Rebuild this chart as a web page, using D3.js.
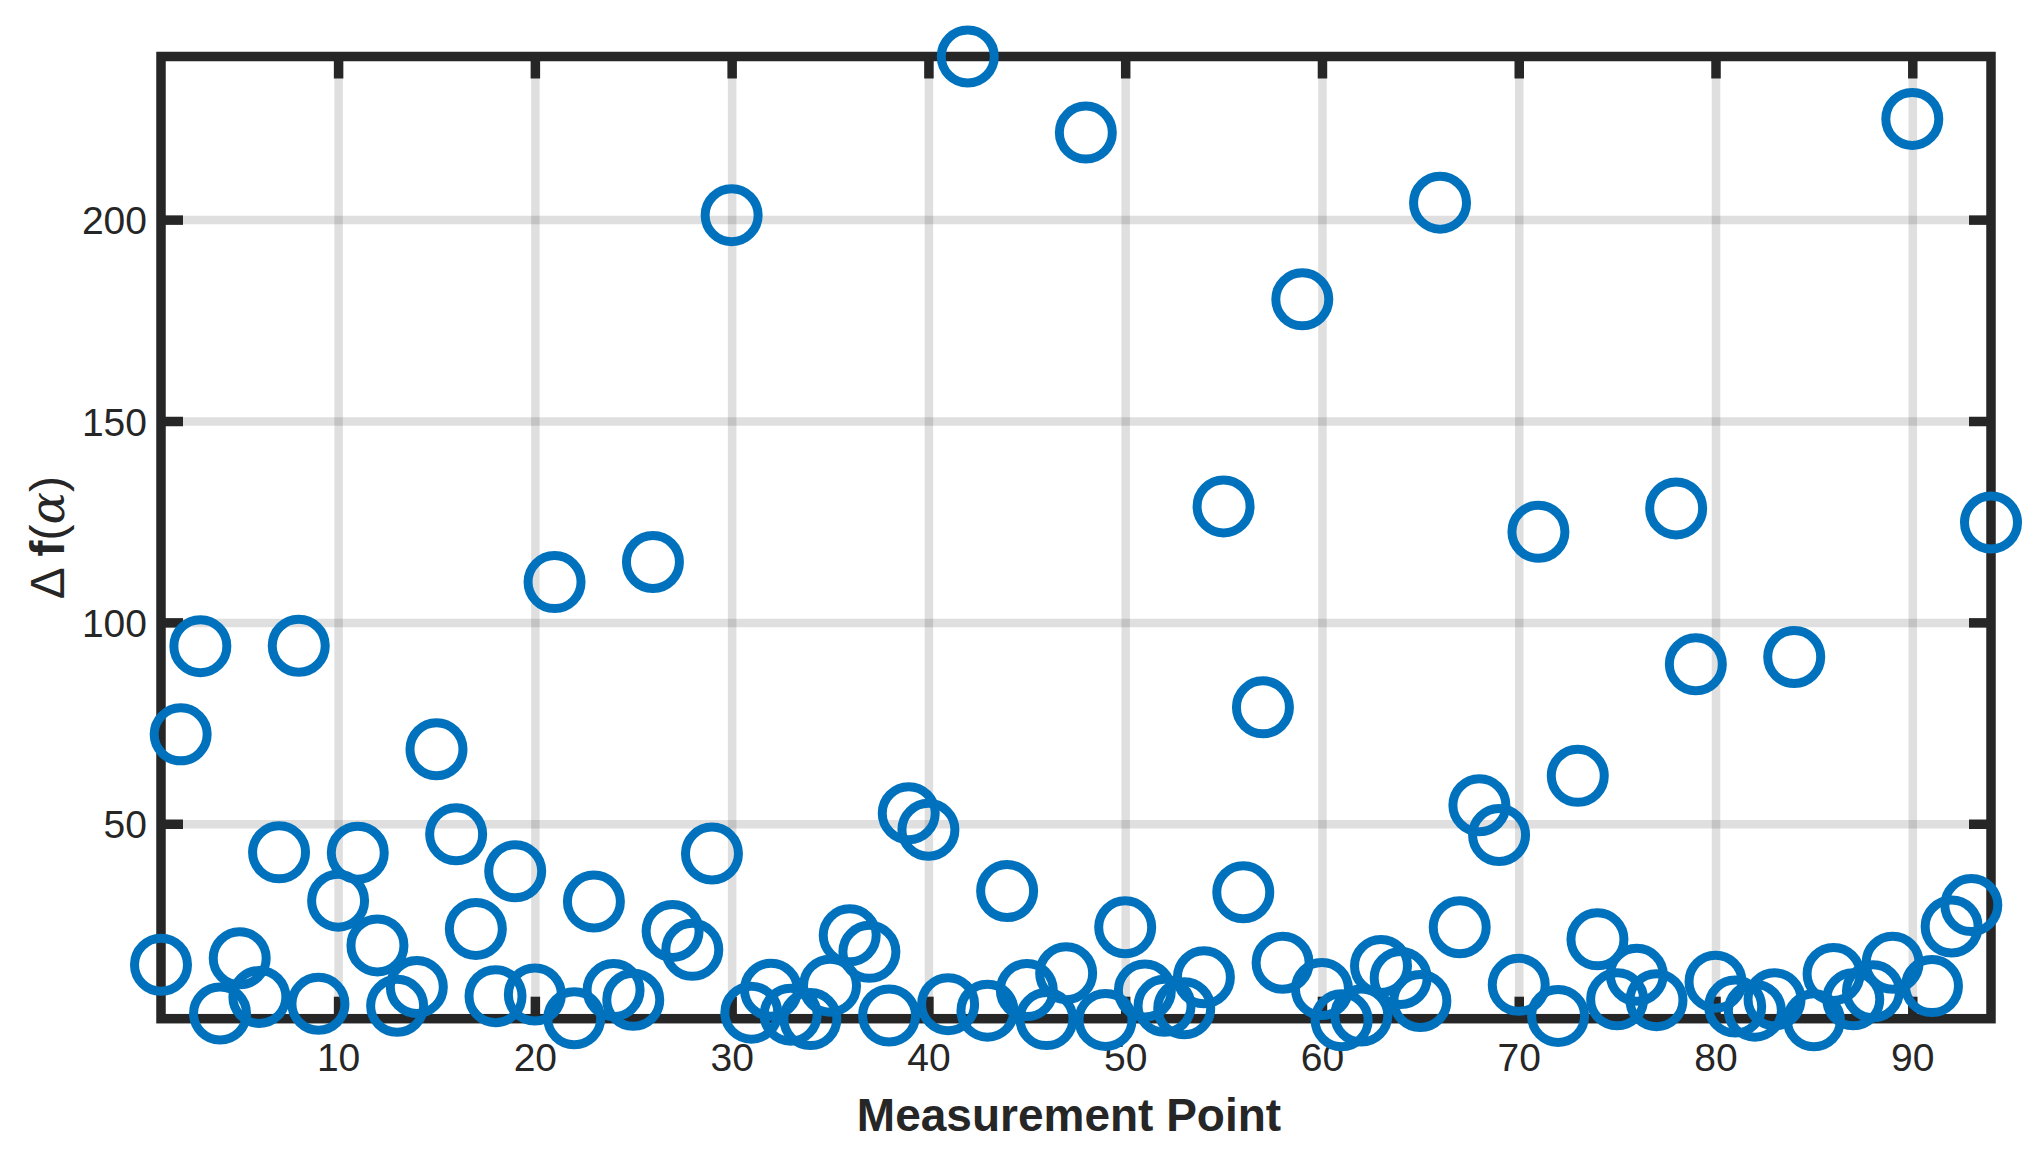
<!DOCTYPE html>
<html lang="en">
<head>
<meta charset="UTF-8">
<script src="https://d3js.org/d3.v7.min.js"></script>
<style>
  body { margin: 0; background: #fff; }
  text { font-family: "Liberation Sans", Arial, Helvetica, sans-serif; fill: #262626; }
</style>
<title>Delta f(alpha)</title>
</head>
<body>
<div class="canvas"></div>
<script>
// measurement points 1..94 and their delta f(alpha) values
const points = d3.range(1, 95)
const deltaF = [
  15.0, 72.2, 94.1, 2.9, 16.6, 7.0, 42.9, 94.2, 5.3, 30.9,
  42.8, 19.8, 4.8, 9.5, 68.5, 47.4, 23.9, 7.2, 38.2, 7.6,
  110.0, 1.7, 30.7, 8.7, 6.3, 115.0, 23.4, 18.7, 42.6, 201.1,
  3.1, 8.8, 2.6, 1.5, 9.8, 22.3, 18.2, 2.4, 52.6, 48.5,
  5.2, 240.5, 3.6, 33.3, 8.7, 1.5, 12.9, 221.6, 1.3, 24.3,
  8.6, 4.8, 4.2, 11.9, 128.8, 33.0, 78.9, 15.5, 180.2, 9.0,
  1.2, 2.4, 14.7, 11.7, 6.0, 204.2, 24.3, 54.6, 47.2, 10.0,
  122.5, 2.3, 61.9, 21.3, 6.4, 12.5, 6.2, 128.3, 89.6, 10.8,
  4.6, 3.6, 6.4, 91.4, 1.2, 12.7, 6.4, 8.4, 15.5, 225.0,
  9.7, 24.5, 29.8, 124.8
]
const xTicks = [10, 20, 30, 40, 50, 60, 70, 80, 90]
const yTicks = [50, 100, 150, 200]
const xDomain = [1, 94]
const yDomain = [1.6, 240.5]

const width = 2040
const height = 1160
const [ml, mr, mt, mb] = [161, 49, 56.5, 141.3]
const graphWidth = width - ml - mr
const graphHeight = height - mt - mb

const ink = '#262626'
const blue = '#0072BD'
const tickLen = 22
const frameWidth = 9.5

const svg = d3.select('.canvas')
  .append('svg')
  .attr('width', width)
  .attr('height', height)

svg.append('rect').attr('width', width).attr('height', height).attr('fill', '#fff')

const x = d3.scaleLinear().domain(xDomain).range([0, graphWidth])
const y = d3.scaleLinear().domain(yDomain).range([graphHeight, 0])

const graph = svg.append('g')
  .attr('transform', `translate(${ml},${mt})`)

// grid
const gridX = graph.append('g')
  .attr('transform', `translate(0,${graphHeight})`)
  .call(d3.axisBottom(x).tickValues(xTicks).tickSize(-graphHeight).tickFormat(''))
const gridY = graph.append('g')
  .call(d3.axisLeft(y).tickValues(yTicks).tickSize(-graphWidth).tickFormat(''))
;[gridX, gridY].forEach(g => {
  g.select('.domain').remove()
  g.selectAll('line')
    .attr('stroke', ink)
    .attr('stroke-opacity', 0.15)
    .attr('stroke-width', 8.5)
})

// box
graph.append('rect')
  .attr('width', graphWidth)
  .attr('height', graphHeight)
  .attr('fill', 'none')
  .attr('stroke', ink)
  .attr('stroke-width', frameWidth)
  .attr('stroke-linecap', 'square')

// ticks on all four sides, pointing inward
const xAxisG = graph.append('g')
  .attr('transform', `translate(0,${graphHeight})`)
  .call(d3.axisBottom(x).tickValues(xTicks).tickSizeInner(-tickLen).tickSizeOuter(0).tickPadding(25))
const yAxisG = graph.append('g')
  .call(d3.axisLeft(y).tickValues(yTicks).tickSizeInner(-tickLen).tickSizeOuter(0).tickPadding(14))
const topG = graph.append('g')
  .call(d3.axisTop(x).tickValues(xTicks).tickSizeInner(-tickLen).tickSizeOuter(0).tickFormat(''))
const rightG = graph.append('g')
  .attr('transform', `translate(${graphWidth},0)`)
  .call(d3.axisRight(y).tickValues(yTicks).tickSizeInner(-tickLen).tickSizeOuter(0).tickFormat(''))

;[xAxisG, yAxisG, topG, rightG].forEach(g => {
  g.select('.domain').remove()
  g.selectAll('line').attr('stroke', ink).attr('stroke-width', frameWidth)
  g.selectAll('text')
    .attr('fill', ink)
    .style('font-size', '39px')
    .style('font-family', '"Liberation Sans", Arial, sans-serif')
})
yAxisG.selectAll('text').attr('dy', '0.36em')

// markers
graph.append('g')
  .selectAll('circle')
  .data(points)
  .enter()
  .append('circle')
  .attr('cx', d => x(d))
  .attr('cy', (d, i) => y(deltaF[i]))
  .attr('r', 26.5)
  .attr('fill', 'none')
  .attr('stroke', blue)
  .attr('stroke-width', 9)

// axis labels
svg.append('text')
  .attr('x', 1069)
  .attr('y', 1131)
  .attr('text-anchor', 'middle')
  .style('font-size', '46px')
  .style('font-weight', 'bold')
  .text('Measurement Point')

const yLabel = svg.append('text')
  .attr('transform', `translate(64,${mt + graphHeight / 2}) rotate(-90)`)
  .attr('text-anchor', 'middle')
  .style('font-size', '48px')
yLabel.append('tspan').text('\u0394 ')
yLabel.append('tspan').style('font-weight', 'bold').text('f')
yLabel.append('tspan').text('(')
yLabel.append('tspan')
  .style('font-family', '"DejaVu Serif", "Liberation Serif", serif')
  .style('font-style', 'italic')
  .text('\u03b1')
yLabel.append('tspan').text(')')
</script>
</body>
</html>
